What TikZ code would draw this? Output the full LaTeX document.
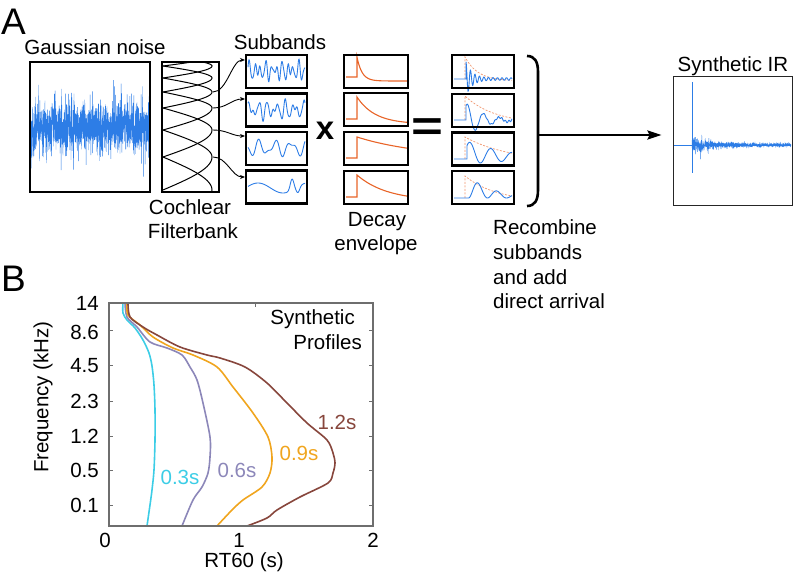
\documentclass[tikz,border=0pt]{standalone}
\usepackage{fontspec}
\setmainfont{Liberation Sans}
\usetikzlibrary{arrows.meta}
\definecolor{sigblue}{RGB}{45,125,230}
\definecolor{envorange}{RGB}{232,100,40}
\definecolor{dashorange}{RGB}{240,150,110}
\definecolor{cA}{RGB}{60,205,230}
\definecolor{cB}{RGB}{140,135,185}
\definecolor{cC}{RGB}{240,165,30}
\definecolor{cD}{RGB}{135,70,60}
\definecolor{axisgray}{RGB}{110,110,110}
\begin{document}
\begin{tikzpicture}[x=1pt,y=-1pt,
  lbl/.style={font=\fontsize{20.5}{24}\selectfont, inner sep=0pt},
  panel/.style={font=\fontsize{37}{40}\selectfont, inner sep=0pt},
  thickbox/.style={draw=black, line width=2.5pt, inner sep=0pt, minimum height=33pt},
  thinbox/.style={draw=black!85, line width=1pt, inner sep=0pt},
  sig/.style={sigblue, line width=0.9pt},
  env/.style={envorange, line width=1.1pt},
  denv/.style={dashorange, line width=0.7pt, dash pattern=on 2pt off 1.5pt},
  fb/.style={black, line width=1pt},
  smallarrow/.style={black, line width=0.9pt, -{Stealth[length=5pt,width=4pt]}},
  curve/.style={line width=1.6pt, smooth, tension=0.5},
  tick/.style={axisgray, line width=1pt}]
\useasboundingbox (0,0) rectangle (796,572);
\pgfmathsetseed{4711}

% ---------- Panel A ----------
\node[panel, anchor=base west] (labA) at (1,35) {A};
\node[lbl, anchor=base] (tnoise) at (95,55) {Gaussian noise};

% Gaussian noise
\begin{scope}
\clip (31,63) rectangle (149,191);
\draw[sigblue, line width=0.4pt] (31,127) \foreach \i in {1,...,1200} { -- ({31+\i*0.09833},{127+14*sqrt(-2*ln(rnd+0.0001))*cos(360*rnd)}) };
\end{scope}
\node[thickbox, minimum width=120pt, minimum height=130pt] (noise) at (90,127) {};

% Cochlear filterbank
\begin{scope}
\clip (163,63) rectangle (218,191);
\foreach \a/\p/\b in {40/48/56, 48/56/66, 56/66/78, 66/78/92, 78/92/108, 92/108/130, 108/130/157, 130/157/190, 157/190/228}
  \draw[fb] plot[domain=\a:\p, samples=25, variable=\t] ({163+49*sin(90*(\t-\a)/(\p-\a))},{\t})
            -- plot[domain=\p:\b, samples=25, variable=\t] ({163+49*cos(90*(\t-\p)/(\b-\p))},{\t});
\end{scope}
\node[thickbox, minimum width=57pt, minimum height=130pt] (fbank) at (190.5,127) {};
\node[lbl, anchor=base] (tcoch) at (190,215) {Cochlear};
\node[lbl, anchor=base] (tfilt) at (193,239) {Filterbank};

% Subbands
\node[lbl, anchor=base] (tsub) at (280,50) {Subbands};
\draw[sig] plot[domain=248:305, samples=220, variable=\t] ({\t},{71 - 6*sin(65.4545*(\t-248)) - 4*sin(43.373*(\t-248)+50) - 2*sin(100*(\t-248)+20)});
\draw[sig] plot[domain=248:305, samples=200, variable=\t] ({\t},{110 - 6*sin(40*(\t-248)+30) - 4*sin(57.143*(\t-248)+120) - 1.5*sin(90*(\t-248)+10)});
\draw[sig] plot[domain=248:305, samples=160, variable=\t] ({\t},{148 - 6*sin(22.5*(\t-248)+200) - 3*sin(37.895*(\t-248)+60)});
\draw[sig] plot[domain=248:305, samples=160, variable=\t] ({\t},{188 - 5*cos(7.2*(\t-258)) - 11*exp(-((\t-292)/2.5)^2) + 6*exp(-((\t-298)/2.5)^2)});
\node[thickbox, minimum width=61pt] (sb1) at (276.5,71.5) {};
\node[thickbox, minimum width=61pt] (sb2) at (276.5,110) {};
\node[thickbox, minimum width=61pt] (sb3) at (276.5,148.5) {};
\node[thickbox, minimum width=61pt] (sb4) at (276.5,187) {};

\coordinate (f1) at (213,92);  \coordinate (s1) at (245,60);
\coordinate (f2) at (213,108); \coordinate (s2) at (245,99);
\coordinate (f3) at (213,130); \coordinate (s3) at (245,136);
\coordinate (f4) at (213,157); \coordinate (s4) at (245,177);
\draw[smallarrow] (f1) .. controls +(14,0) and +(-13,0) .. (s1);
\draw[smallarrow] (f2) .. controls +(14,0) and +(-13,0) .. (s2);
\draw[smallarrow] (f3) .. controls +(14,0) and +(-13,0) .. (s3);
\draw[smallarrow] (f4) .. controls +(14,0) and +(-13,0) .. (s4);

\node[inner sep=0pt, font=\fontsize{33}{36}\selectfont\bfseries] (times) at (325,131) {x};

% Decay envelopes
\draw[env] (346,77) -- (357,77) -- (357,57) -- plot[domain=357:407, samples=80, variable=\t] ({\t},{81-24*exp(-(\t-357)/5)});
\draw[env] (346,119) -- (357,119) -- (357,97) -- plot[domain=357:407, samples=60, variable=\t] ({\t},{124-27*exp(-(\t-357)/18)});
\draw[env] (346,158) -- (357,158) -- (357,137) -- plot[domain=357:407, samples=40, variable=\t] ({\t},{158-21*exp(-(\t-357)/66)});
\draw[env] (346,197) -- (357,197) -- (357,175) -- plot[domain=357:407, samples=40, variable=\t] ({\t},{201-26*exp(-(\t-357)/30)});
\node[thickbox, minimum width=64pt] (de1) at (376,71.5) {};
\node[thickbox, minimum width=64pt] (de2) at (376,109.5) {};
\node[thickbox, minimum width=64pt] (de3) at (376,148.5) {};
\node[thickbox, minimum width=64pt] (de4) at (376,187.5) {};
\node[lbl, anchor=base] (tdecay) at (377,227) {Decay};
\node[lbl, anchor=base] (tenv) at (376,251) {envelope};

\node[inner sep=0pt, font=\fontsize{42}{44}\selectfont\bfseries] (equals) at (427,130) {\scalebox{1.3}[1]{=}};

% Products
\draw[denv] (465,79) -- (465,57) -- plot[domain=465:512, samples=40, variable=\t] ({\t},{81-24*exp(-(\t-465)/13)});
\draw[denv] (465,120) -- (465,96) -- plot[domain=465:512, samples=40, variable=\t] ({\t},{124-28*exp(-(\t-465)/30)});
\draw[denv] (465,159) -- (465,137) -- plot[domain=465:512, samples=40, variable=\t] ({\t},{162-25*exp(-(\t-465)/45)});
\draw[denv] (465,198) -- (465,176) -- plot[domain=465:512, samples=40, variable=\t] ({\t},{202-26*exp(-(\t-465)/32)});
\draw[sig] (454,79) -- (466,79) -- plot[domain=466:512, samples=200, variable=\t] ({\t},{79-(16*exp(-(\t-466)/6)+1.2)*cos(80*(\t-466))});
\draw[sig] (454,120) -- (466,120) -- plot[domain=466:512, samples=160, variable=\t] ({\t},{120-17*exp(-(\t-466)/18)*cos(22.5*(\t-467.5)) - 1.2*sin(102.857*(\t-466))*(\t-466)/46});
\draw[sig] (454,159) -- (467,159) -- plot[domain=467:512, samples=120, variable=\t] ({\t},{159-17*exp(-(\t-469)/45)*(0.65*cos(17.143*(\t-470))+0.35)});
\draw[sig] (454,198) -- (468.5,198) -- plot[domain=468.5:512, samples=100, variable=\t] ({\t},{198-15*exp(-(\t-478)/25)*(0.5+0.5*cos(18.947*(\t-478)))});
\node[thickbox, minimum width=62pt] (pr1) at (483,71.5) {};
\node[thickbox, minimum width=62pt] (pr2) at (483,110.5) {};
\node[thickbox, minimum width=62pt] (pr3) at (483,149) {};
\node[thickbox, minimum width=62pt] (pr4) at (483,187.5) {};

% Bracket and arrow
\draw[line width=2.6pt] (527,56) .. controls (535,56) and (538,62) .. (538,72) -- (538,190) .. controls (538,200) and (535,206) .. (527,206);
\coordinate (brk) at (538,135);

\node[lbl, anchor=base west] (trec1) at (493,235) {Recombine};
\node[lbl, anchor=base west] (trec2) at (493,260) {subbands};
\node[lbl, anchor=base west] (trec3) at (493,285) {and add};
\node[lbl, anchor=base west] (trec4) at (493,309) {direct arrival};

% Synthetic IR
\node[lbl, anchor=base] (tir) at (733,72) {Synthetic IR};
\draw[sigblue, line width=0.6pt] (674,145) -- (791,145);
\draw[sigblue, line width=0.7pt] (692,82) -- (692,173);
\draw[sigblue, line width=0.4pt] (692,145) \foreach \i in {1,...,800} { -- ({692+\i*0.12375},{145+(0.8+5.5*exp(-\i*0.12375/18))*sqrt(-2*ln(rnd+0.0001))*cos(360*rnd)}) };
\node[thinbox, minimum width=119pt, minimum height=129pt] (ir) at (732.5,141.5) {};
\draw[line width=2.4pt, -{Stealth[length=14pt,width=9pt,inset=2pt]}, shorten >=11pt] (brk) -- (brk -| ir.west);

% ---------- Panel B ----------
\node[panel, anchor=base west] (labB) at (1,292) {B};
\draw[curve, cA] plot coordinates {(123,303) (123,313) (127,320) (135,328) (143,340) (149,353) (152,366) (154,385) (155,410) (155,440) (154,470) (152,490) (150,505) (147,526)};
\draw[curve, cB] plot coordinates {(125,303) (127,317) (137,327) (150,342) (167,348) (182,355) (190,367) (197,380) (203,403) (210,437) (210,457) (208,473) (202,487) (193,500) (182,526)};
\draw[curve, cC] plot coordinates {(127,303) (128,315) (140,325) (153,337) (173,348) (193,355) (217,367) (233,387) (253,413) (268,437) (272,457) (270,473) (262,487) (243,500) (232,510) (217,526)};
\draw[curve, cD] plot coordinates {(128,303) (130,317) (143,327) (157,335) (180,347) (207,355) (220,358) (245,367) (267,383) (287,403) (307,423) (327,440) (333,453) (335,463) (333,473) (328,483) (300,497) (277,510) (267,518) (247,526)};
\node[draw=axisgray, line width=1.1pt, inner sep=0pt, minimum width=264pt, minimum height=223pt] (axes) at (241,414.5) {};
\foreach \yy in {331,366,401,436,470,505} {
  \draw[tick] (109,\yy) -- (113,\yy);
  \draw[tick] (373,\yy) -- (369,\yy);
}
\draw[tick] (255,303) -- (255,307);
\foreach \yy/\lab in {303/14, 332/8.6, 366/4.5, 401/2.3, 436/1.2, 470/0.5, 505/0.1}
  \node[lbl, anchor=east] at (99,\yy) {\lab};
\node[lbl, anchor=base] (x0) at (105,547) {0};
\node[lbl, anchor=base] (x1) at (239,547) {1};
\node[lbl, anchor=base] (x2) at (373,547) {2};
\node[lbl, anchor=base] (xlab) at (244,567) {RT60 (s)};
\node[lbl, rotate=90] (ylab) at (43,397) {Frequency (kHz)};
\node[lbl, anchor=base east] (tsyn) at (355,325) {Synthetic};
\node[lbl, anchor=base east] (tprof) at (362,350) {Profiles};
\node[lbl, text=cA] (l03) at (180,477) {0.3s};
\node[lbl, text=cB] (l06) at (237,470) {0.6s};
\node[lbl, text=cC] (l09) at (299,453) {0.9s};
\node[lbl, text=cD] (l12) at (337,422) {1.2s};
\end{tikzpicture}
\end{document}
